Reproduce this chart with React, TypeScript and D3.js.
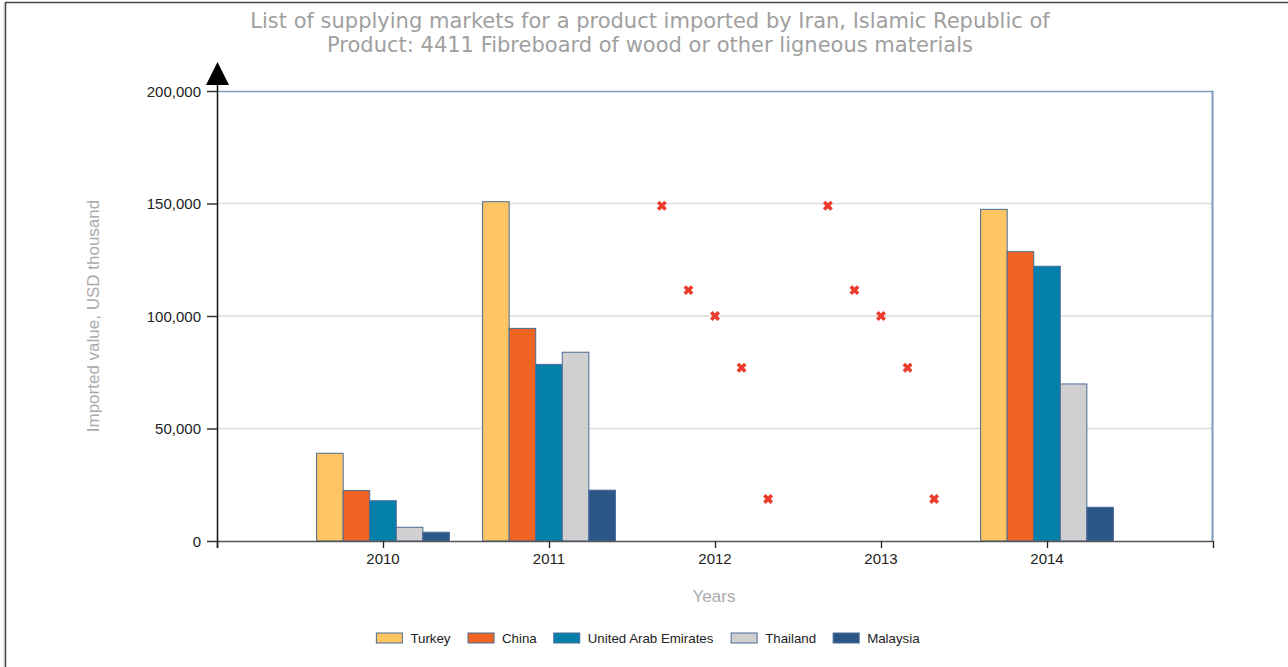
import React from "react";
import * as d3 from "d3";

const years = [2010, 2011, 2012, 2013, 2014];
const series = ["Turkey", "China", "United Arab Emirates", "Thailand", "Malaysia"];
const colors = ["#fdc564", "#ef6423", "#0480ab", "#d0d0d0", "#2b5686"];
const turkey = [39000, 150800, null, null, 147400];
const china = [22400, 94500, null, null, 128600];
const uae = [17900, 78500, null, null, 122100];
const thailand = [6100, 83900, null, null, 69800];
const malaysia = [3900, 22600, null, null, 15000];
const values = [turkey, china, uae, thailand, malaysia];
const noDataMarkerValues = [149000, 111500, 100000, 77000, 18700];
const yTicks = [0, 50000, 100000, 150000, 200000];
const title1 = "List of supplying markets for a product imported by Iran, Islamic Republic of";
const title2 = "Product: 4411 Fibreboard of wood or other ligneous materials";

export default function App() {
  const W = 1288, H = 667;
  const left = 217, right = 1213, top = 91, bottom = 541;
  const x = d3.scaleLinear().domain([2009, 2015]).range([left, right]);
  const step = x(2010) - x(2009);
  const inner = d3.scaleBand<string>().domain(series).range([-0.4 * step, 0.4 * step]).padding(0);
  const y = d3.scaleLinear().domain([0, 200000]).range([bottom, top]);
  const fmt = d3.format(",");
  const font = "'Liberation Sans', Arial, sans-serif";
  const xPath = (cx: number, cy: number, r: number) => `M${cx - r},${cy - r}L${cx + r},${cy + r}M${cx - r},${cy + r}L${cx + r},${cy - r}`;

  // legend layout
  const legendFont = 13.3;
  const swW = 26, swH = 10, gap = 8, itemGap = 17;
  const charW = (s: string) => {
    const w: Record<string, number> = { T: .611, u: .556, r: .333, k: .5, e: .556, y: .5, C: .722, h: .556, i: .222, n: .556, a: .556, U: .722, t: .278, d: .556, " ": .278, A: .667, b: .556, E: .667, m: .833, s: .5, l: .222, M: .833 };
    return s.split("").reduce((acc, c) => acc + (w[c] ?? .55), 0) * legendFont;
  };
  const itemWidths = series.map((s) => swW + gap + charW(s));
  const totalW = d3.sum(itemWidths) + itemGap * (series.length - 1);
  let cursor = 648 - totalW / 2;
  const legendItems = series.map((s, i) => {
    const xPos = cursor;
    cursor += itemWidths[i] + itemGap;
    return { s, i, xPos };
  });

  return (
    <svg width={W} height={H} style={{ position: "absolute", left: 0, top: 0, display: "block", background: "#fff" }}>
      {/* outer frame */}
      <line x1={4} x2={4} y1={2} y2={H} stroke="#d8d8d8" strokeWidth={1} />
      <line x1={5.5} x2={5.5} y1={2} y2={H} stroke="#444" strokeWidth={1.5} />
      <line x1={5} x2={W} y1={2.5} y2={2.5} stroke="#444" strokeWidth={1.5} />

      {/* title */}
      <text x={650} y={28} textAnchor="middle" fill="#a0a0a0" fontFamily="'DejaVu Sans', Verdana, sans-serif" fontSize={21}>{title1}</text>
      <text x={650} y={52} textAnchor="middle" fill="#a0a0a0" fontFamily="'DejaVu Sans', Verdana, sans-serif" fontSize={21}>{title2}</text>

      {/* gridlines */}
      {yTicks.filter((t) => t > 0 && t < 200000).map((t) => (
        <line key={t} x1={left} x2={right} y1={y(t)} y2={y(t)} stroke="#dddddd" strokeWidth={1.5} />
      ))}
      {/* plot border top/right */}
      <line x1={left} x2={right + 0.75} y1={y(200000) + 0.5} y2={y(200000) + 0.5} stroke="#7f9cbf" strokeWidth={1.5} />
      <line x1={right - 0.5} x2={right - 0.5} y1={y(200000)} y2={bottom} stroke="#7f9cbf" strokeWidth={2} />

      {/* bars */}
      {years.map((yr, yi) => series.map((s, si) => {
        const v = values[si][yi];
        if (v == null) return null;
        const bx = x(yr) + (inner(s) as number);
        return (
          <rect key={`${yr}-${s}`} x={bx} y={y(v)} width={inner.bandwidth()} height={bottom - y(v)}
            fill={colors[si]} stroke="#4a6b96" strokeWidth={1} />
        );
      }))}

      {/* no data markers */}
      {years.map((yr, yi) => series.map((s, si) => {
        if (values[si][yi] != null) return null;
        const cx = x(yr) + (inner(s) as number) + inner.bandwidth() / 2;
        return <path key={`m-${yr}-${s}`} d={xPath(cx, y(noDataMarkerValues[si]), 3.7)} stroke="#ec3a2c" strokeWidth={3.6} fill="none" />;
      }))}

      {/* x axis */}
      <line x1={left} x2={right} y1={bottom + 0.5} y2={bottom + 0.5} stroke="#555" strokeWidth={1.5} />
      {[2009, ...years, 2015].map((yr) => (
        <line key={`xt${yr}`} x1={x(yr) + 0.5} x2={x(yr) + 0.5} y1={bottom} y2={bottom + 7} stroke="#222" strokeWidth={1.3} />
      ))}
      {years.map((yr) => (
        <text key={`xl${yr}`} x={x(yr)} y={564} textAnchor="middle" fontFamily={font} fontSize={15} fill="#222">{yr}</text>
      ))}

      {/* y axis */}
      <line x1={left + 0.5} x2={left + 0.5} y1={84} y2={bottom + 7} stroke="#111" strokeWidth={1.5} />
      <path d={`M${left + 0.5},62L${left - 11},85L${left + 12},85Z`} fill="#000" />
      {yTicks.map((t) => (
        <g key={`yt${t}`}>
          <line x1={left - 10} x2={left} y1={y(t) + 0.5} y2={y(t) + 0.5} stroke="#333" strokeWidth={1.5} />
          <text x={left - 16} y={y(t) + 5.5} textAnchor="end" fontFamily={font} fontSize={15} fill="#222">{fmt(t)}</text>
        </g>
      ))}

      {/* axis titles */}
      <text transform={`translate(99,316) rotate(-90)`} textAnchor="middle" fontFamily={font} fontSize={17} fill="#aaaaaa">Imported value, USD thousand</text>
      <text x={714} y={602} textAnchor="middle" fontFamily={font} fontSize={17} fill="#aaaaaa">Years</text>

      {/* legend */}
      {legendItems.map(({ s, i, xPos }) => (
        <g key={`lg${s}`}>
          <rect x={xPos} y={633} width={swW} height={swH} fill={colors[i]} stroke="#4a6b96" strokeWidth={1} />
          <text x={xPos + swW + gap} y={643} fontFamily={font} fontSize={legendFont} fill="#222">{s}</text>
        </g>
      ))}
    </svg>
  );
}
